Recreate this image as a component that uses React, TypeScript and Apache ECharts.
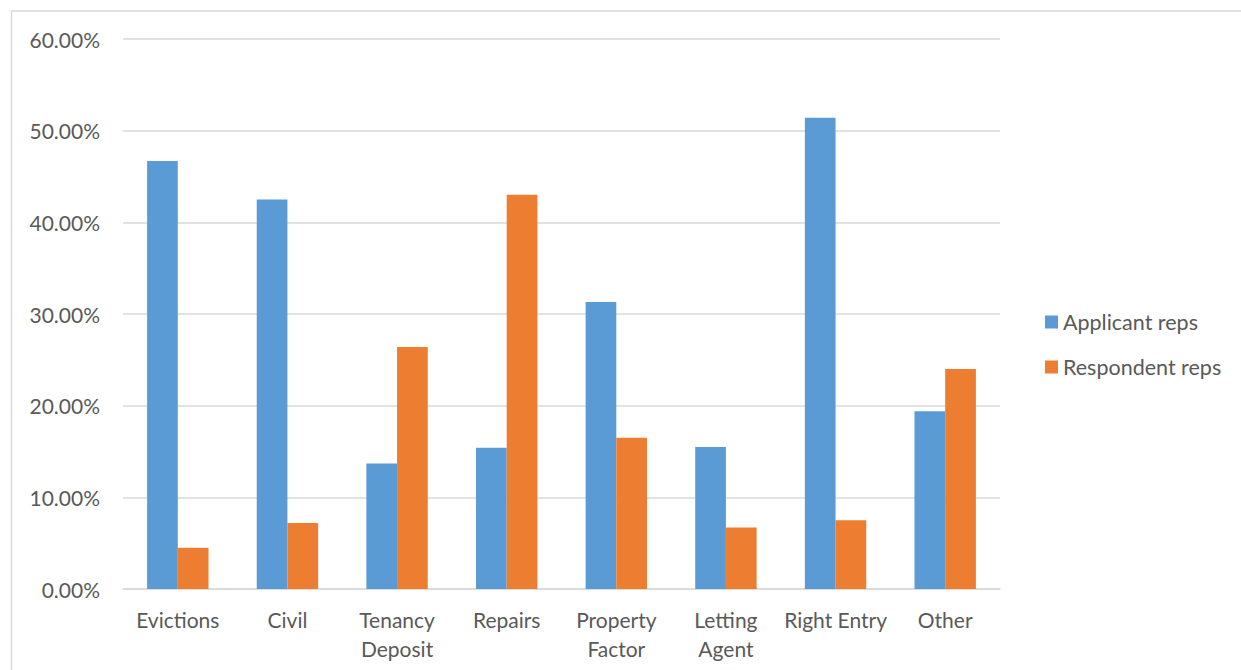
import React, { useEffect, useRef } from "react";
import * as echarts from "echarts";

const categories = ["Evictions", "Civil", "Tenancy\nDeposit", "Repairs", "Property\nFactor", "Letting\nAgent", "Right Entry", "Other"];
const applicantReps = [46.7, 42.5, 13.7, 15.4, 31.3, 15.5, 51.4, 19.4];
const respondentReps = [4.5, 7.2, 26.4, 43.0, 16.5, 6.7, 7.5, 24.0];
const seriesNames = ["Applicant reps", "Respondent reps"];

const FONT = "Lato";
const TEXT = "#595959";
const GRID = "#d9d9d9";

export default function App() {
  const ref = useRef<HTMLDivElement>(null);
  useEffect(() => {
    if (!ref.current) return;
    const chart = echarts.init(ref.current, null, { renderer: "svg" });
    chart.setOption({
      animation: false,
      backgroundColor: "#ffffff",
      textStyle: { fontFamily: FONT },
      graphic: [
        {
          type: "rect",
          shape: { x: 11.5, y: 11, width: 1400, height: 800 },
          style: { fill: "none", stroke: GRID, lineWidth: 1.5 },
          silent: true,
        },
      ],
      grid: { left: 123, right: 241, top: 39, bottom: 81, containLabel: false },
      legend: {
        orient: "vertical",
        left: 1040,
        top: 306,
        itemWidth: 13,
        itemHeight: 13,
        itemGap: 23,
        icon: "rect",
        textStyle: { color: TEXT, fontSize: 21.5, fontFamily: FONT },
        data: seriesNames,
      },
      xAxis: {
        type: "category",
        data: categories,
        axisLine: { show: true, lineStyle: { color: GRID, width: 1.5 } },
        axisTick: { show: false },
        axisLabel: {
          color: TEXT,
          fontSize: 21,
          fontFamily: FONT,
          margin: 16,
          lineHeight: 29,
          interval: 0,
        },
      },
      yAxis: {
        type: "value",
        min: 0,
        max: 60,
        interval: 10,
        axisLine: { show: false },
        axisTick: { show: false },
        splitLine: { lineStyle: { color: GRID, width: 1.5 } },
        axisLabel: {
          color: TEXT,
          fontSize: 21,
          fontFamily: FONT,
          margin: 23,
          formatter: (v: number) => v.toFixed(2) + "%",
        },
      },
      series: [
        {
          name: seriesNames[0],
          type: "bar",
          data: applicantReps,
          barWidth: 30.7,
          barGap: "0%",
          itemStyle: { color: "#5B9BD5" },
        },
        {
          name: seriesNames[1],
          type: "bar",
          data: respondentReps,
          barWidth: 30.7,
          barGap: "0%",
          itemStyle: { color: "#ED7D31" },
        },
      ],
    });
    return () => chart.dispose();
  }, []);
  return (
    <div
      ref={ref}
      style={{ position: "absolute", left: 0, top: 0, width: 1241, height: 670 }}
    />
  );
}
